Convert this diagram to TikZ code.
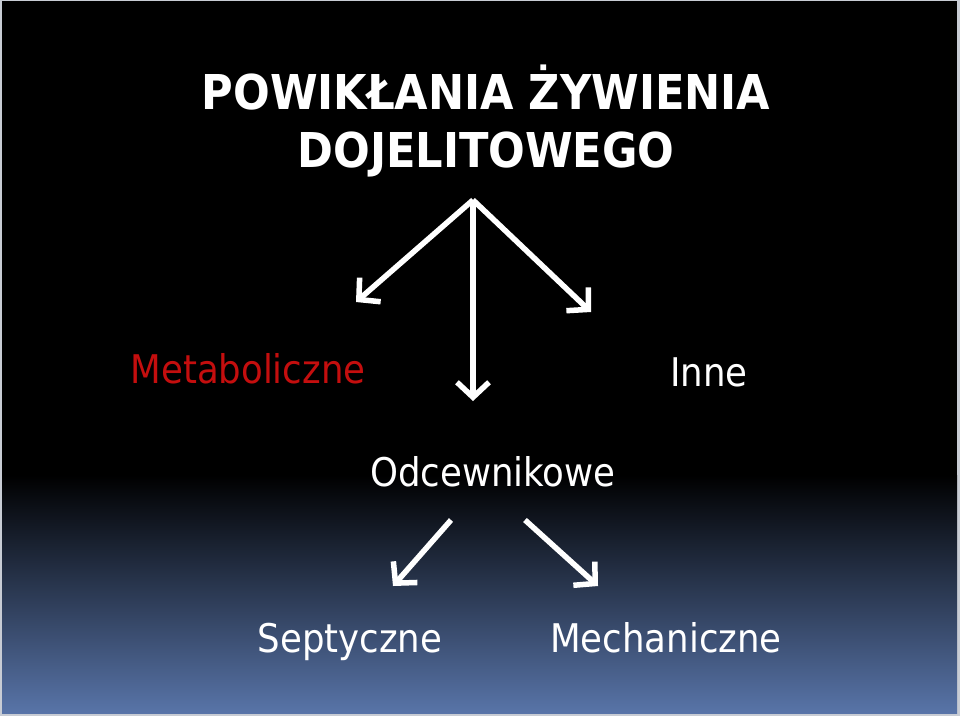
\documentclass[tikz,border=0pt]{standalone}
\usepackage{fontspec}
\setmainfont{DejaVu Sans Condensed}
\usetikzlibrary{arrows.meta,positioning}
\definecolor{slideblue}{RGB}{88,116,168}
\definecolor{slidered}{RGB}{196,14,14}
\definecolor{slideframe}{RGB}{200,204,212}

\begin{document}
\begin{tikzpicture}[x=1pt,y=-1pt,
    heading/.style={white, font=\bfseries\fontsize{48}{58}\selectfont, align=center},
    branch/.style={white, font=\fontsize{39.5}{44}\selectfont, anchor=base},
    pointer/.style={white, line width=5.5pt, -{Straight Barb[length=15pt,width=32pt]}}]
  % slide background
  \fill[slideframe] (0,0) rectangle (960,716);
  \fill[black] (2,1) rectangle (957,476);
  \shade[top color=black, bottom color=slideblue] (2,475) rectangle (957,713);
  \useasboundingbox (0,0) rectangle (960,716);
  % title
  \node[heading] (title) at (486,121) {POWIKŁANIA ŻYWIENIA\\DOJELITOWEGO};
  % first level
  \node[branch, slidered] (meta) at (248,383) {Metaboliczne};
  \node[branch] (odc) at (493,486) {Odcewnikowe};
  \node[branch] (inne) at (709,386) {Inne};
  % second level
  \node[branch] (sept) at (350,652) {Septyczne};
  \node[branch] (mech) at (666,652) {Mechaniczne};
  % arrow ends
  \coordinate (fork) at (473,200);
  \coordinate (toMeta) at (356,302);
  \coordinate (toOdc) at (473,401);
  \coordinate (toInne) at (591,312);
  \coordinate (fromOdcL) at (451,520);
  \coordinate (fromOdcR) at (525,520);
  \coordinate (toSept) at (393,586);
  \coordinate (toMech) at (598,586);
  \foreach \tip in {toMeta,toOdc,toInne}
    \draw[pointer] (fork) -- (\tip);
  \draw[pointer] (fromOdcL) -- (toSept);
  \draw[pointer] (fromOdcR) -- (toMech);
\end{tikzpicture}
\end{document}
